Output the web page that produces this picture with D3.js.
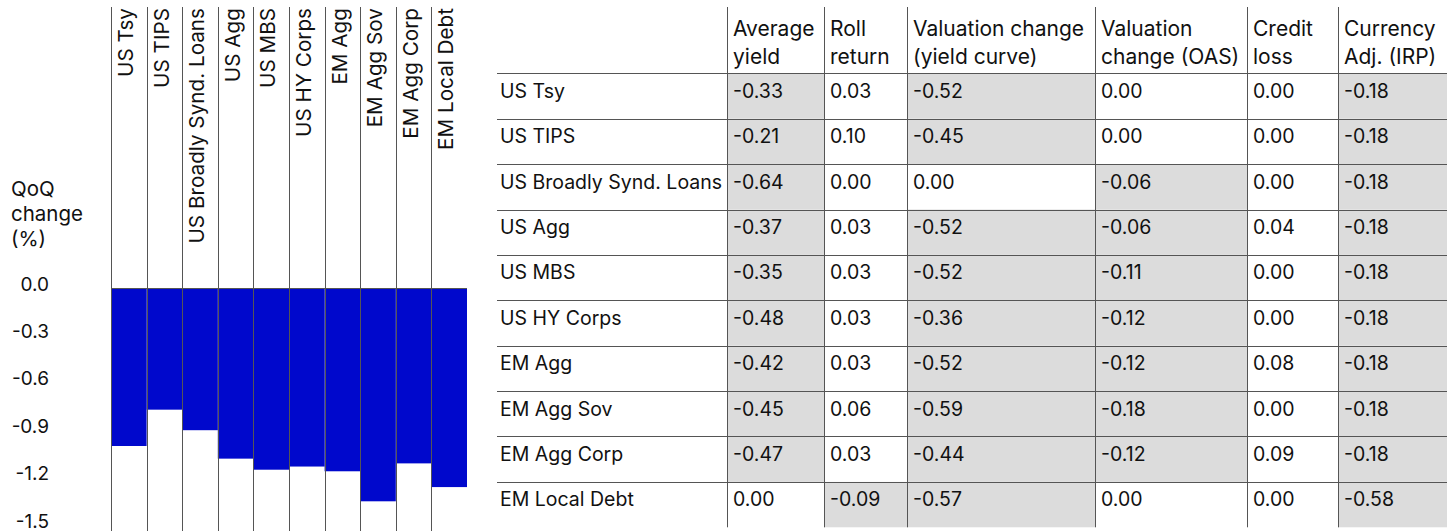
<!DOCTYPE html>
<html>
<head>
<meta charset="utf-8">
<script src="https://cdn.jsdelivr.net/npm/d3@7"></script>
<style>
  body { margin: 0; background: #fff; }
  svg text { font-family: Inter, "Open Sans", sans-serif; fill: #111; }
</style>
</head>
<body>
<div id="chart"></div>
<script>
// categories (same order in chart and table)
const categories = ["US Tsy", "US TIPS", "US Broadly Synd. Loans", "US Agg", "US MBS",
    "US HY Corps", "EM Agg", "EM Agg Sov", "EM Agg Corp", "EM Local Debt"];

// total QoQ change (%)
const qoqChange = [-1.00, -0.77, -0.90, -1.08, -1.15, -1.13, -1.16, -1.35, -1.11, -1.26];
const yTicks = [0, -0.3, -0.6, -0.9, -1.2, -1.5];

// table columns
const columnHeaders = [
    ["Average", "yield"],
    ["Roll", "return"],
    ["Valuation change", "(yield curve)"],
    ["Valuation", "change (OAS)"],
    ["Credit", "loss"],
    ["Currency", "Adj. (IRP)"]
];
const averageYield = [-0.33, -0.21, -0.64, -0.37, -0.35, -0.48, -0.42, -0.45, -0.47, 0.00];
const rollReturn = [0.03, 0.10, 0.00, 0.03, 0.03, 0.03, 0.03, 0.06, 0.03, -0.09];
const valuationCurve = [-0.52, -0.45, 0.00, -0.52, -0.52, -0.36, -0.52, -0.59, -0.44, -0.57];
const valuationOAS = [0.00, 0.00, -0.06, -0.06, -0.11, -0.12, -0.12, -0.18, -0.12, 0.00];
const creditLoss = [0.00, 0.00, 0.00, 0.04, 0.00, 0.00, 0.08, 0.00, 0.09, 0.00];
const currencyAdj = [-0.18, -0.18, -0.18, -0.18, -0.18, -0.18, -0.18, -0.18, -0.18, -0.58];

const width = 1455;
const height = 531;
const lineColor = "#555";

const svg = d3.select("#chart")
    .append("svg")
    .attr("width", width)
    .attr("height", height);

// ---------- left: bar chart ----------
const xScale = d3.scaleBand()
    .domain(categories)
    .range([111, 467])
    .padding(0);

const yScale = d3.scaleLinear()
    .domain([0, -1.5])
    .range([288, 525]);

svg.selectAll(".bar")
    .data(categories.map((c, i) => ({ c, v: qoqChange[i] })))
    .enter()
    .append("rect")
    .attr("class", "bar")
    .attr("x", d => xScale(d.c))
    .attr("y", yScale(0))
    .attr("width", xScale.bandwidth())
    .attr("height", d => yScale(d.v) - yScale(0))
    .attr("fill", "#0008cc");

svg.selectAll(".colline")
    .data(categories)
    .enter()
    .append("line")
    .attr("class", "colline")
    .attr("x1", d => Math.round(xScale(d)) + 0.5)
    .attr("x2", d => Math.round(xScale(d)) + 0.5)
    .attr("y1", 7)
    .attr("y2", height)
    .attr("stroke", lineColor)
    .attr("stroke-width", 1);

svg.append("line")
    .attr("x1", xScale.range()[0])
    .attr("x2", xScale.range()[1])
    .attr("y1", yScale(0) + 0.5)
    .attr("y2", yScale(0) + 0.5)
    .attr("stroke", lineColor);

svg.selectAll(".collabel")
    .data(categories)
    .enter()
    .append("text")
    .attr("class", "collabel")
    .attr("transform", d => `translate(${xScale(d) + 22},8) rotate(-90)`)
    .attr("text-anchor", "end")
    .attr("font-size", "20.7px")
    .text(d => d);

svg.selectAll(".ytick")
    .data(yTicks)
    .enter()
    .append("text")
    .attr("class", "ytick")
    .attr("x", 49)
    .attr("y", d => yScale(d) - 4)
    .attr("dy", "0.35em")
    .attr("text-anchor", "end")
    .attr("font-size", "19px")
    .text(d => d.toFixed(1));

svg.append("text")
    .attr("x", 11)
    .attr("y", 196)
    .attr("font-size", "20.5px")
    .selectAll("tspan")
    .data(["QoQ", "change", "(%)"])
    .enter()
    .append("tspan")
    .attr("x", 11)
    .attr("dy", (d, i) => i === 0 ? 0 : 25)
    .text(d => d);

// ---------- right: table ----------
const colEdges = [727, 824, 907, 1095, 1247, 1338, 1447];
const tableLeft = 497;
const columns = [averageYield, rollReturn, valuationCurve, valuationOAS, creditLoss, currencyAdj];

const rowScale = d3.scaleBand()
    .domain(categories)
    .range([73.3, 527.3]);

const cells = [];
categories.forEach((c, r) => {
    columns.forEach((col, j) => {
        cells.push({ row: c, j, v: col[r] });
    });
});

svg.selectAll(".cellbg")
    .data(cells.filter(d => d.v < 0))
    .enter()
    .append("rect")
    .attr("class", "cellbg")
    .attr("x", d => colEdges[d.j])
    .attr("y", d => rowScale(d.row))
    .attr("width", d => colEdges[d.j + 1] - colEdges[d.j])
    .attr("height", rowScale.bandwidth())
    .attr("fill", "#dcdcdc");

svg.selectAll(".celltext")
    .data(cells)
    .enter()
    .append("text")
    .attr("class", "celltext")
    .attr("x", d => colEdges[d.j] + 6)
    .attr("y", d => rowScale(d.row) + 24.5)
    .attr("font-size", "19.5px")
    .text(d => d.v.toFixed(2));

svg.selectAll(".rowlabel")
    .data(categories)
    .enter()
    .append("text")
    .attr("class", "rowlabel")
    .attr("x", 500)
    .attr("y", d => rowScale(d) + 24.5)
    .attr("font-size", "19.5px")
    .text(d => d);

// horizontal rules
svg.selectAll(".hrule")
    .data(categories)
    .enter()
    .append("line")
    .attr("class", "hrule")
    .attr("x1", tableLeft)
    .attr("x2", colEdges[colEdges.length - 1])
    .attr("y1", d => Math.round(rowScale(d)) + 0.5)
    .attr("y2", d => Math.round(rowScale(d)) + 0.5)
    .attr("stroke", lineColor);

// vertical rules
svg.selectAll(".vrule")
    .data(colEdges.slice(0, -1))
    .enter()
    .append("line")
    .attr("class", "vrule")
    .attr("x1", d => d + 0.5)
    .attr("x2", d => d + 0.5)
    .attr("y1", 7)
    .attr("y2", rowScale.range()[1])
    .attr("stroke", lineColor);

// headers
const header = svg.selectAll(".header")
    .data(columnHeaders)
    .enter()
    .append("text")
    .attr("class", "header")
    .attr("font-size", "21px");

header.append("tspan")
    .attr("x", (d, j) => colEdges[j] + 6)
    .attr("y", 36)
    .text(d => d[0]);

header.append("tspan")
    .attr("x", (d, j) => colEdges[j] + 6)
    .attr("y", 63.5)
    .text(d => d[1]);
</script>
</body>
</html>
